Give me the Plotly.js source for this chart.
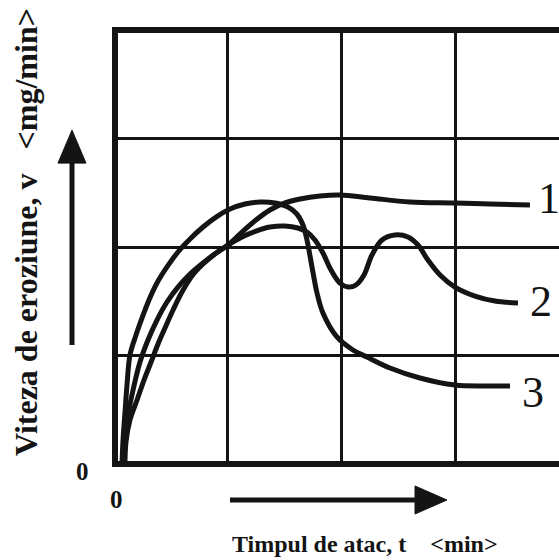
<!DOCTYPE html>
<html>
<head>
<meta charset="utf-8">
<script src="https://cdn.plot.ly/plotly-3.0.1.min.js"></script>
<style>
  html, body { margin: 0; padding: 0; background: #ffffff; }
  #chart { width: 559px; height: 560px; }
</style>
</head>
<body>
<div id="chart"></div>
<script>
// ---- data (time t, erosion rate v; arbitrary units, 1 unit = 1 grid cell) ----
const curveNames = ['1', '2', '3'];

const t1 = [0.096, 0.105, 0.140, 0.202, 0.263, 0.325, 0.386, 0.447, 0.518, 0.596, 0.684, 0.781, 0.886, 1.000, 1.123, 1.246, 1.368, 1.500, 1.632, 1.807, 1.982, 2.246, 2.596, 2.991, 3.298, 3.649];
const v1 = [0.000, 0.203, 0.406, 0.590, 0.774, 0.940, 1.106, 1.253, 1.419, 1.585, 1.733, 1.843, 1.935, 2.018, 2.138, 2.249, 2.341, 2.406, 2.442, 2.470, 2.479, 2.452, 2.415, 2.406, 2.396, 2.387];

const t2 = [0.088, 0.096, 0.123, 0.167, 0.228, 0.298, 0.377, 0.465, 0.561, 0.667, 0.781, 0.895, 1.000, 1.123, 1.246, 1.368, 1.500, 1.614, 1.693, 1.763, 1.833, 1.904, 1.982, 2.053, 2.123, 2.193, 2.263, 2.351, 2.465, 2.579, 2.667, 2.754, 2.860, 2.991, 3.167, 3.342, 3.544];
const v2 = [0.000, 0.221, 0.452, 0.682, 0.940, 1.143, 1.327, 1.493, 1.631, 1.751, 1.853, 1.945, 2.018, 2.092, 2.147, 2.184, 2.194, 2.175, 2.138, 2.065, 1.945, 1.788, 1.668, 1.631, 1.650, 1.742, 1.926, 2.065, 2.111, 2.092, 2.018, 1.880, 1.742, 1.631, 1.548, 1.502, 1.484];

const t3 = [0.070, 0.079, 0.096, 0.114, 0.140, 0.193, 0.246, 0.307, 0.377, 0.465, 0.561, 0.667, 0.781, 0.895, 1.018, 1.149, 1.281, 1.412, 1.526, 1.605, 1.658, 1.693, 1.737, 1.781, 1.833, 1.956, 2.096, 2.219, 2.421, 2.684, 2.991, 3.254, 3.474];
const v3 = [0.000, 0.221, 0.470, 0.728, 1.005, 1.189, 1.346, 1.512, 1.668, 1.816, 1.954, 2.074, 2.184, 2.276, 2.350, 2.396, 2.415, 2.406, 2.369, 2.304, 2.203, 2.065, 1.816, 1.576, 1.392, 1.171, 1.051, 0.986, 0.885, 0.793, 0.728, 0.719, 0.719];

const gridTicks = [1, 2, 3];
const zeroLabel = '0';
const xTitle = 'Timpul de atac, t\u00a0\u00a0\u00a0 &lt;min&gt;';
const yTitle = 'Viteza de eroziune, v\u00a0\u00a0 &lt;mg/min&gt;';

// ---- build ----
const ink = '#141414';
const serif = 'Liberation Serif, Times New Roman, serif';
const series = [[t1, v1], [t2, v2], [t3, v3]];

const traces = series.map((s, i) => ({
  type: 'scatter',
  mode: 'lines',
  name: curveNames[i],
  x: s[0],
  y: s[1],
  line: { color: ink, width: 5, shape: 'spline', smoothing: 1 },
  hoverinfo: 'skip'
}));

const labelShift = [[6, 7], [10, 2], [10, -6]];
const curveLabels = series.map((s, i) => ({
  x: s[0][s[0].length - 1],
  y: s[1][s[1].length - 1],
  xref: 'x', yref: 'y',
  text: curveNames[i],
  showarrow: false,
  xanchor: 'left', yanchor: 'middle',
  xshift: labelShift[i][0], yshift: labelShift[i][1],
  font: { family: serif, size: 44, color: ink }
}));

const layout = {
  width: 559,
  height: 560,
  margin: { l: 118, r: 0, t: 33, b: 99, pad: 0 },
  paper_bgcolor: '#ffffff',
  plot_bgcolor: '#ffffff',
  showlegend: false,
  xaxis: {
    range: [0.035, 3.904],
    tickvals: gridTicks,
    showticklabels: false,
    ticks: '',
    showgrid: true, gridcolor: ink, gridwidth: 3,
    zeroline: false,
    showline: true, linecolor: ink, linewidth: 6, mirror: true,
    fixedrange: true
  },
  yaxis: {
    range: [0.028, 3.972],
    tickvals: gridTicks,
    showticklabels: false,
    ticks: '',
    showgrid: true, gridcolor: ink, gridwidth: 3,
    zeroline: false,
    showline: true, linecolor: ink, linewidth: 6, mirror: false,
    fixedrange: true
  },
  annotations: curveLabels.concat([
    { xref: 'paper', yref: 'paper', x: -0.0023, y: -0.0888, text: '<b>' + zeroLabel + '</b>',
      showarrow: false, xanchor: 'center', yanchor: 'middle',
      font: { family: serif, size: 25, color: ink } },
    { xref: 'paper', yref: 'paper', x: -0.0816, y: -0.0257, text: '<b>' + zeroLabel + '</b>',
      showarrow: false, xanchor: 'center', yanchor: 'middle',
      font: { family: serif, size: 25, color: ink } },
    { xref: 'paper', yref: 'paper', x: 0.560, y: -0.194, text: '<b>' + xTitle + '</b>',
      showarrow: false, xanchor: 'center', yanchor: 'middle',
      font: { family: serif, size: 24, color: ink } },
    { xref: 'paper', yref: 'paper', x: -0.2086, y: 0.535, text: '<b>' + yTitle + '</b>',
      showarrow: false, xanchor: 'center', yanchor: 'middle', textangle: -90,
      font: { family: serif, size: 32, color: ink } }
  ]),
  shapes: [
    // vertical arrow (v increases)
    { type: 'line', xref: 'paper', yref: 'paper', x0: -0.1043, x1: -0.1043, y0: 0.271, y1: 0.700,
      line: { color: ink, width: 5 } },
    { type: 'path', xref: 'paper', yref: 'paper',
      path: 'M -0.1361 0.696 L -0.0726 0.696 L -0.1043 0.773 Z',
      fillcolor: ink, line: { color: ink, width: 1 } },
    // horizontal arrow (t increases)
    { type: 'line', xref: 'paper', yref: 'paper', x0: 0.254, x1: 0.680, y0: -0.0911, y1: -0.0911,
      line: { color: ink, width: 5 } },
    { type: 'path', xref: 'paper', yref: 'paper',
      path: 'M 0.6735 -0.0584 L 0.6735 -0.1238 L 0.746 -0.0911 Z',
      fillcolor: ink, line: { color: ink, width: 1 } }
  ]
};

Plotly.newPlot('chart', traces, layout, { staticPlot: true, displayModeBar: false });
</script>
</body>
</html>
